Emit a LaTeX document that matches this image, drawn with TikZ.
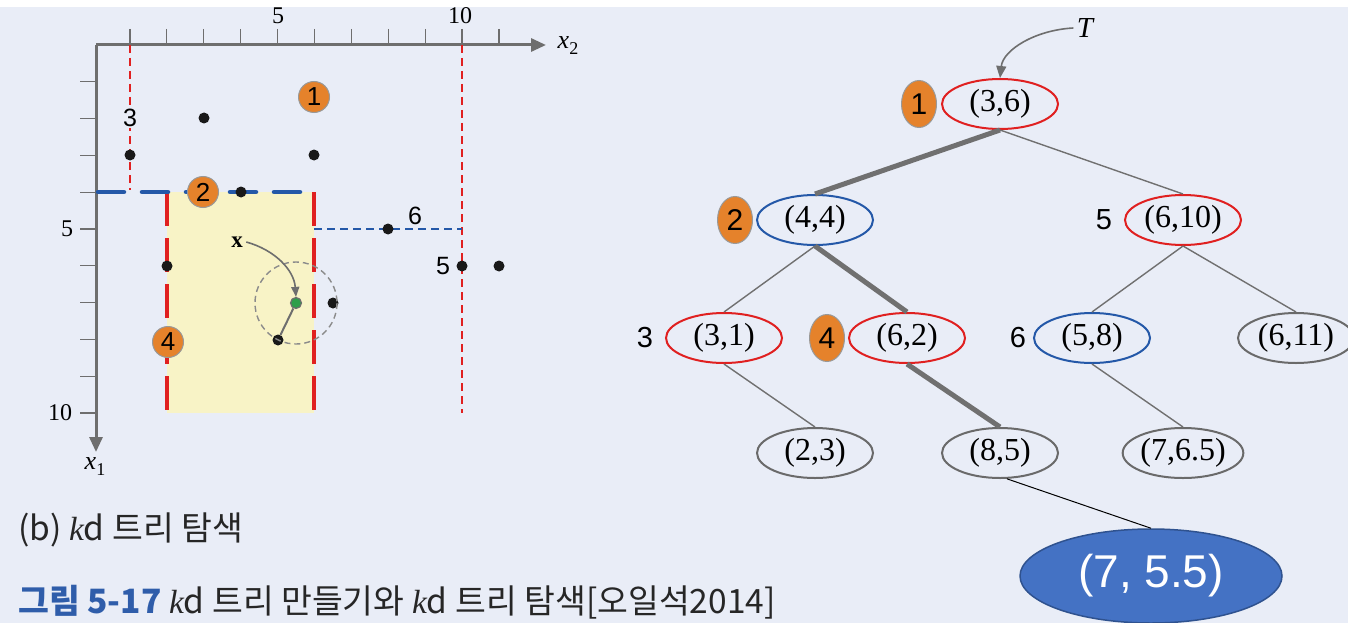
\documentclass[tikz,border=0pt]{standalone}
\usepackage{fontspec}
\setmainfont{Liberation Serif}
\newfontfamily\sansf{Liberation Sans}
\newfontfamily\krf{Noto Sans CJK KR}
\usetikzlibrary{shapes.geometric,arrows.meta}
\definecolor{bg}{HTML}{E9EDF7}
\definecolor{axisgray}{HTML}{6E6E6E}
\definecolor{kdred}{HTML}{E02020}
\definecolor{kdblue}{HTML}{2458A8}
\definecolor{badgeor}{HTML}{E5822B}
\definecolor{regionfill}{HTML}{F8F3C6}
\definecolor{capblue}{HTML}{2F5DAA}
\definecolor{bigblue}{HTML}{4472C4}
\definecolor{bigborder}{HTML}{2F528F}
\definecolor{ptgreen}{HTML}{2E9E4A}
\definecolor{edgegray}{HTML}{707070}
\definecolor{nodegray}{HTML}{6A6A6A}
\tikzset{
  pt/.style={circle, fill=black!90, inner sep=0, minimum size=11},
  qpt/.style={circle, fill=ptgreen, draw=axisgray, line width=1.2, inner sep=0, minimum size=11},
  pbadge/.style={circle, fill=badgeor, draw=axisgray!70, line width=1, inner sep=0, minimum size=31, font=\sansf\fontsize{26}{26}\selectfont},
  tbadge/.style={ellipse, fill=badgeor, draw=axisgray!70, line width=1, inner sep=0, minimum width=35, minimum height=47, font=\sansf\fontsize{30}{30}\selectfont},
  tn/.style={ellipse, line width=2, inner sep=0, minimum width=116, minimum height=50, font=\fontsize{32}{32}\selectfont},
  thinedge/.style={edgegray, line width=1.4},
  thickedge/.style={edgegray, line width=5},
  axislbl/.style={font=\fontsize{24}{24}\selectfont},
  sidelbl/.style={font=\sansf\fontsize{29}{29}\selectfont},
  plotlbl/.style={font=\sansf\fontsize{25}{25}\selectfont},
  thinred/.style={kdred, line width=1.2, dash pattern=on 8 off 5},
  thickred/.style={kdred, line width=4, dash pattern=on 34 off 12},
  thinblue/.style={kdblue, line width=1.3, dash pattern=on 8 off 5},
  thickblue/.style={kdblue, line width=4.5, line cap=round, dash pattern=on 26 off 18},
}
\begin{document}
\begin{tikzpicture}[x=1pt,y=-1pt]
\fill[white] (0,0) rectangle (1348,623);
\fill[bg] (0,7) rectangle (1348,623);
\useasboundingbox (0,0) rectangle (1348,623);

% ---------- plot ----------
\fill[regionfill] (167,192) rectangle (314,413);
\coordinate (O) at (96,45);
\coordinate (xend) at (546,45);
\coordinate (yend) at (96,452);
\foreach \i in {1,...,11} \draw[axisgray, line width=1.2] ({93+36.9*\i},29) -- ({93+36.9*\i},45);
\foreach \i in {1,...,10} \draw[axisgray, line width=1.2] (80,{45+36.8*\i}) -- (96,{45+36.8*\i});
\draw[axisgray, line width=3, -{Triangle[length=15,width=13]}] (O) -- (xend);
\draw[axisgray, line width=3, -{Triangle[length=15,width=13]}] (O) -- (yend);
\node[axislbl] (t5) at (278,16) {5};
\node[axislbl] (t10) at (460,16) {10};
\node[axislbl] (l5) at (67,229) {5};
\node[axislbl] (l10) at (60,413) {10};
\node[font=\fontsize{26}{26}\selectfont] (x2) at (568,46) {\textit{x}\raisebox{-6pt}{\fontsize{18}{18}\selectfont 2}};
\node[font=\fontsize{26}{26}\selectfont] (x1) at (95,467) {\textit{x}\raisebox{-6pt}{\fontsize{18}{18}\selectfont 1}};

% split lines
\draw[thinred] (130,45) -- (130,190);
\draw[thinred] (462,45) -- (462,413);
\draw[thinblue] (314,229) -- (462,229);
\draw[thickred] (314,192) -- (314,413);
\draw[thickred] (167,192) -- (167,413);
\draw[thickblue] (98,192) -- (312,192);

% points
\node[pt] (p36) at (314,155) {};
\node[pt] (p44) at (241,192) {};
\node[pt] (p31) at (130,155) {};
\node[pt] (p23) at (204,118) {};
\node[pt] (p62) at (167,266) {};
\node[pt] (p85) at (278,340) {};
\node[pt] (p610) at (462,266) {};
\node[pt] (p58) at (388,229) {};
\node[pt] (p765) at (333,303) {};
\node[pt] (p611) at (499,266) {};
\node[qpt] (q) at (296,303) {};
\draw[axisgray!80, line width=1.4, dash pattern=on 6 off 4] (q.center) circle (41);
\draw[axisgray, line width=2] (q) -- (p85);
\node[font=\bfseries\fontsize{23}{23}\selectfont] (xl) at (237,242) {x};
\draw[axisgray, line width=1.6, -{Triangle[length=10,width=8]}] (xl.east) .. controls (275,250) and (294,270) .. (q.north);

\node[plotlbl, fill=bg, inner sep=1] (lab3) at (130,118) {3};
\node[plotlbl] (lab6) at (415,216) {6};
\node[plotlbl] (lab5) at (443,266) {5};
\node[pbadge] (b1) at (314,97) {1};
\node[pbadge] (b2) at (203,192) {2};
\node[pbadge] (b4) at (168,342) {4};

% ---------- tree ----------
\node[tn, draw=kdred] (n36) at (1000,104) {(3,6)};
\node[tn, draw=kdblue] (n44) at (815,220) {(4,4)};
\node[tn, draw=kdred] (n610) at (1183,220) {(6,10)};
\node[tn, draw=kdred] (n31) at (724,338) {(3,1)};
\node[tn, draw=kdred] (n62) at (907,338) {(6,2)};
\node[tn, draw=kdblue] (n58) at (1092,338) {(5,8)};
\node[tn, draw=nodegray] (n611) at (1296,338) {(6,11)};
\node[tn, draw=nodegray] (n23) at (815,453) {(2,3)};
\node[tn, draw=nodegray] (n85) at (1000,453) {(8,5)};
\node[tn, draw=nodegray] (n765) at (1183,453) {(7,6.5)};

\draw[thickedge] (n36.south) -- (n44.north);
\draw[thinedge] (n36.south) -- (n610.north);
\draw[thinedge] (n44.south) -- (n31.north);
\draw[thickedge] (n44.south) -- (n62.north);
\draw[thinedge] (n610.south) -- (n58.north);
\draw[thinedge] (n610.south) -- (n611.north);
\draw[thinedge] (n31.south) -- (n23.north);
\draw[thickedge] (n62.south) -- (n85.north);
\draw[thinedge] (n58.south) -- (n765.north);

\node[tbadge] (tb1) at (919,104) {1};
\node[tbadge] (tb2) at (735,220) {2};
\node[tbadge] (tb4) at (827,338) {4};
\node[sidelbl] (s5) at (1104,220) {5};
\node[sidelbl] (s3) at (645,338) {3};
\node[sidelbl] (s6) at (1018,338) {6};

\node[font=\itshape\fontsize{29}{29}\selectfont] (T) at (1085,28) {T};
\draw[axisgray, line width=1.6, -{Triangle[length=12,width=10]}] (T.west) .. controls (1035,30) and (1003,50) .. (n36.north);

\node[ellipse, fill=bigblue, draw=bigborder, line width=1.5, minimum width=262, minimum height=94, inner sep=0, text=white, font=\sansf\fontsize{46}{46}\selectfont] (big) at (1151,576) {(7, 5.5)};
\draw[black, line width=1] (n85.-75) -- (big.north);

% ---------- captions ----------
\node[anchor=west, inner sep=0, font=\krf\fontsize{33.5}{33.5}\selectfont, text=black!85] (cap1) at (18,530) {(b) {\rmfamily\itshape k}d 트리 탐색};
\node[anchor=west, inner sep=0, font=\krf\fontsize{33.5}{33.5}\selectfont, text=black!85] (cap2) at (18,602) {{\color{capblue}\bfseries 그림 5-17} {\rmfamily\itshape k}d 트리 만들기와 {\rmfamily\itshape k}d 트리 탐색[오일석2014]};
\end{tikzpicture}
\end{document}
